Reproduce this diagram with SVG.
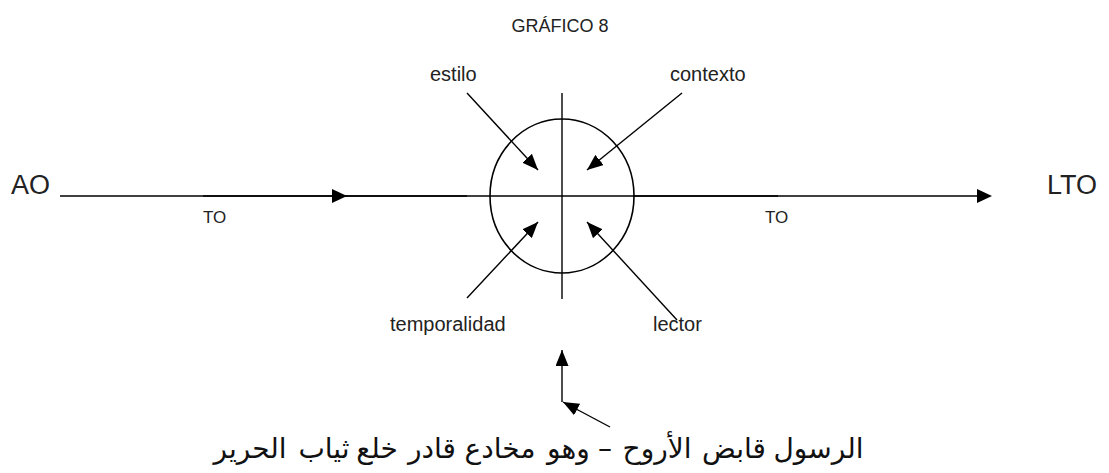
<svg xmlns="http://www.w3.org/2000/svg" width="1109" height="473" viewBox="0 0 1109 473">
  <style>
    .lbl { font-family: "Liberation Sans", Arial, sans-serif; fill: #222; }
    .ar { font-family: "DejaVu Sans", "Noto Sans", sans-serif; font-size: 28px; fill: #111; text-anchor: middle; direction: rtl; }
    .ln { stroke: #000; stroke-width: 1.4; fill: none; }
    .head { fill: #000; }
  </style>
  <defs>
    <marker id="tri" markerUnits="userSpaceOnUse" markerWidth="16" markerHeight="13" refX="16" refY="6.5" orient="auto">
      <path d="M0,0 L16,6.5 L0,13 Z" fill="#000"/>
    </marker>
  </defs>
  <rect width="1109" height="473" fill="#fff"/>

  <text class="lbl" x="560" y="32" font-size="18" text-anchor="middle">GRÁFICO 8</text>

  <g id="connectors">
    <!-- main axis from AO to LTO -->
    <line class="ln" x1="60" y1="196" x2="980" y2="196" stroke-width="1.3"/>
    <line class="ln" x1="203" y1="196" x2="467" y2="196" stroke-width="1.8"/>
    <line class="ln" x1="633" y1="196" x2="778" y2="196" stroke-width="1.8"/>
    <path class="head" d="M332,189 L347,196 L332,203 Z"/>
    <path class="head" d="M977,189 L992,196 L977,203 Z"/>
    <!-- vertical axis through the circle -->
    <line class="ln" x1="562" y1="93" x2="562" y2="299"/>
    <!-- factors pointing into the circle -->
    <line class="ln" x1="467" y1="93" x2="538" y2="170" marker-end="url(#tri)"/>
    <line class="ln" x1="682" y1="93" x2="587" y2="170" marker-end="url(#tri)"/>
    <line class="ln" x1="467" y1="298" x2="538" y2="222" marker-end="url(#tri)"/>
    <line class="ln" x1="677" y1="320" x2="587" y2="222" marker-end="url(#tri)"/>
    <!-- bottom pointer -->
    <line class="ln" x1="562" y1="402" x2="562" y2="350" marker-end="url(#tri)"/>
    <line class="ln" x1="610" y1="427" x2="563" y2="402" marker-end="url(#tri)"/>
  </g>

  <g id="node-center">
    <ellipse cx="562" cy="196" rx="72" ry="77" fill="none" stroke="#000" stroke-width="1.6"/>
  </g>

  <g id="node-ao"><text class="lbl" x="11" y="194" font-size="27">AO</text></g>
  <g id="node-lto"><text class="lbl" x="1047" y="194" font-size="27">LTO</text></g>
  <g id="label-to-left"><text class="lbl" x="203" y="223" font-size="17">TO</text></g>
  <g id="label-to-right"><text class="lbl" x="765" y="223" font-size="17">TO</text></g>
  <g id="node-estilo"><text class="lbl" x="430" y="81" font-size="20">estilo</text></g>
  <g id="node-contexto"><text class="lbl" x="670" y="81" font-size="20">contexto</text></g>
  <g id="node-temporalidad"><text class="lbl" x="390" y="331" font-size="20">temporalidad</text></g>
  <g id="node-lector"><text class="lbl" x="653" y="331" font-size="20">lector</text></g>

  <!-- caption, right to left, one word per text -->
  <g id="node-caption">
    <text class="ar" x="818.5" y="458">الرسول</text>
    <text class="ar" x="734" y="458">قابض</text>
    <text class="ar" x="657" y="458">الأروح</text>
    <text class="ar" x="605" y="458">–</text>
    <text class="ar" x="568.5" y="458">وهو</text>
    <text class="ar" x="500" y="458">مخادع</text>
    <text class="ar" x="432" y="458">قادر</text>
    <text class="ar" x="377" y="458">خلع</text>
    <text class="ar" x="324" y="458">ثياب</text>
    <text class="ar" x="250" y="458">الحرير</text>
  </g>
</svg>
